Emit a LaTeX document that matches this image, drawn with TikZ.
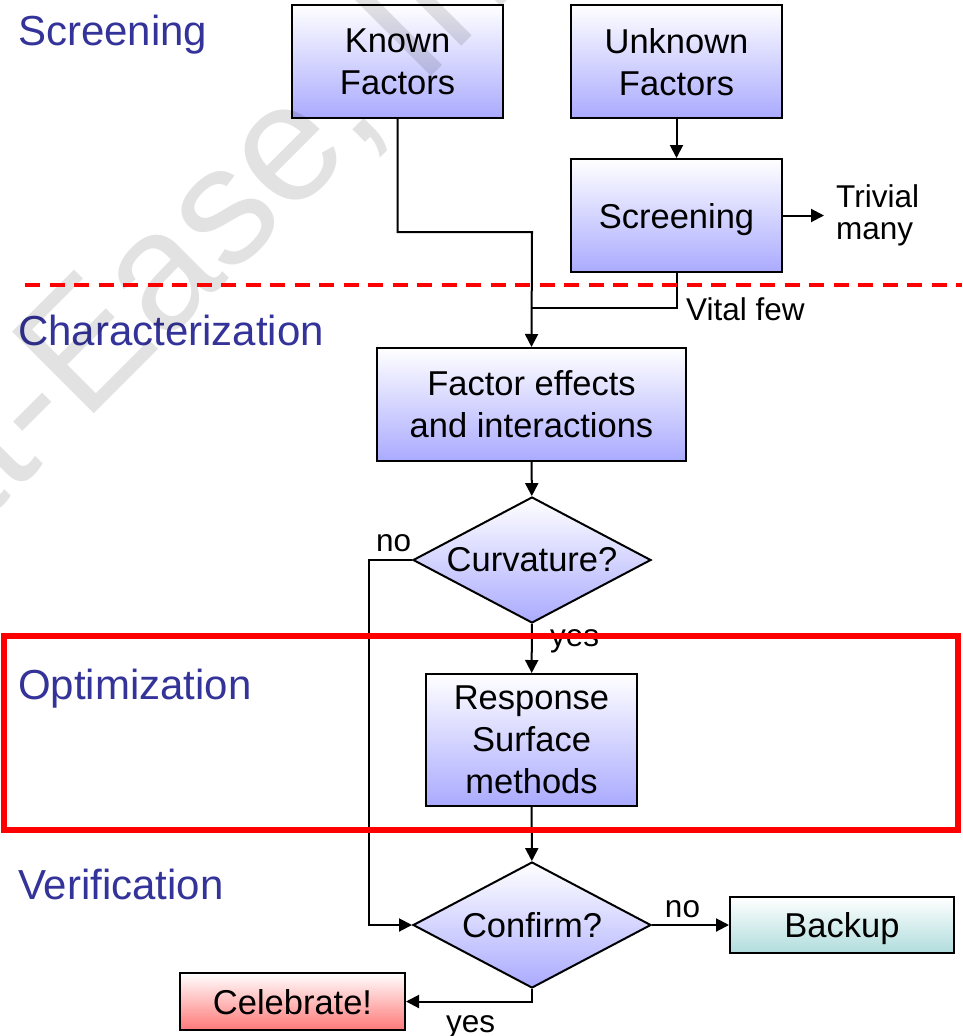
\documentclass[tikz,border=0pt]{standalone}
\usepackage{fontspec}
\setmainfont{Liberation Sans}
\usepackage{tikz}
\usetikzlibrary{shapes.geometric,arrows.meta,positioning,calc}
\definecolor{phaseblue}{RGB}{51,51,153}
\definecolor{boxlav}{RGB}{170,170,255}
\definecolor{backteal}{RGB}{176,220,220}
\definecolor{celebred}{RGB}{255,120,120}
\newcommand{\flowfont}{\fontsize{34.5}{42}\selectfont}
\newcommand{\notefont}{\fontsize{31.5}{32}\selectfont}
\newcommand{\phasefont}{\fontsize{42}{48}\selectfont}
\tikzset{
  stage/.style={rectangle, draw=black, line width=2pt, top color=white,
                bottom color=boxlav, minimum width=211pt, minimum height=113pt,
                inner sep=0pt, text depth=0pt, align=center, font=\flowfont},
  decision/.style={diamond, aspect=1.89, draw=black, line width=2pt,
                   top color=white, bottom color=boxlav, minimum width=238pt,
                   minimum height=126pt, inner sep=0pt, font=\flowfont},
  outcome/.style={rectangle, draw=black, line width=2pt, minimum width=224pt,
                  minimum height=56pt, inner sep=0pt, text depth=0pt,
                  font=\flowfont},
  phase/.style={anchor=base west, inner sep=0pt, text=phaseblue, font=\phasefont},
  note/.style={inner sep=0pt, align=left, font=\notefont},
  watermark/.style={anchor=base west, rotate=45, inner sep=0pt, text=black,
                    text opacity=0.115, font=\fontsize{168}{168}\selectfont},
  arrow/.style={-{Triangle[length=13pt,width=13pt]}, line width=2pt},
  link/.style={line width=2pt}
}

\begin{document}
\begin{tikzpicture}[x=1pt, y=-1pt]
\useasboundingbox (0,0) rectangle (962,1036);

% --- Phase labels ---
\node[phase] (pscreen) at (18,45) {Screening};
\node[phase] (pchar) at (18,345) {Characterization};
\node[phase] (popt) at (18,699) {Optimization};
\node[phase] (pverif) at (18,899) {Verification};

% --- Screening ---
\node[stage] (known) at (397.5,61.5) {Known\\Factors};
\node[stage, right=66pt of known] (unknown) {Unknown\\Factors};
\node[stage, below=39pt of unknown] (screen) {Screening};
\node[note, right=41pt of screen, inner xsep=12pt] (trivial) {Trivial\\many};
\node[note, anchor=base west] (vital) at (686,320) {Vital few};

% --- Characterization ---
\node[stage, minimum width=309pt] (factor) at (531.5,404.5)
  {Factor effects\\and interactions};
\node[decision] (curv) at (532,560) {Curvature?};
\node[note, anchor=base west] (curvno) at (376,551) {no};
\node[note, anchor=base west] (curvyes) at (550,646) {yes};

% --- Optimization ---
\node[stage, minimum height=132pt] (resp) at (531.5,740)
  {Response\\Surface\\methods};

% --- Verification ---
\node[decision] (confirm) at (532,925) {Confirm?};
\node[outcome, bottom color=backteal, top color=white, right=77pt of confirm]
  (backup) {Backup};
\node[outcome, bottom color=celebred, top color=white, minimum width=225pt,
      minimum height=57pt] (celebrate) at (292.5,1001.5) {Celebrate!};
\node[note, anchor=base west] (confyes) at (446,1032) {yes};

% --- Joins ---
\coordinate (kj) at (532,232);
\coordinate (vj) at (532,308);

% --- Arrows ---
\draw[arrow] (unknown) -- (screen);
\draw[arrow] (screen) -- (trivial);
\draw[arrow] (known.south) |- (kj) -- (factor.north);
\draw[link] (screen.south) |- (vj);
\draw[arrow] (factor) -- (curv);
\draw[arrow] (curv) -- (resp);
\draw[arrow] (curv.west) -- ++(-43,0) |- (confirm.west);
\draw[arrow] (resp) -- (confirm);
\draw[arrow] (confirm.east) -- node[midway, above=6pt, note, xshift=-8pt]{no} (backup.west);
\draw[arrow] (confirm.south) |- (celebrate.east);

% --- Watermark ---
\begin{scope}
  \clip (0,0) rectangle (962,1036);
  \node[watermark] (wm) at (-167,675) {Stat-Ease, Inc.};
\end{scope}

% --- Phase markers ---
\draw[red, line width=4pt, dash pattern=on 15pt off 9.5pt] (25,285) -- (962,285);
\draw[red, line width=6pt] (4,636) rectangle (958,830);

\end{tikzpicture}
\end{document}
